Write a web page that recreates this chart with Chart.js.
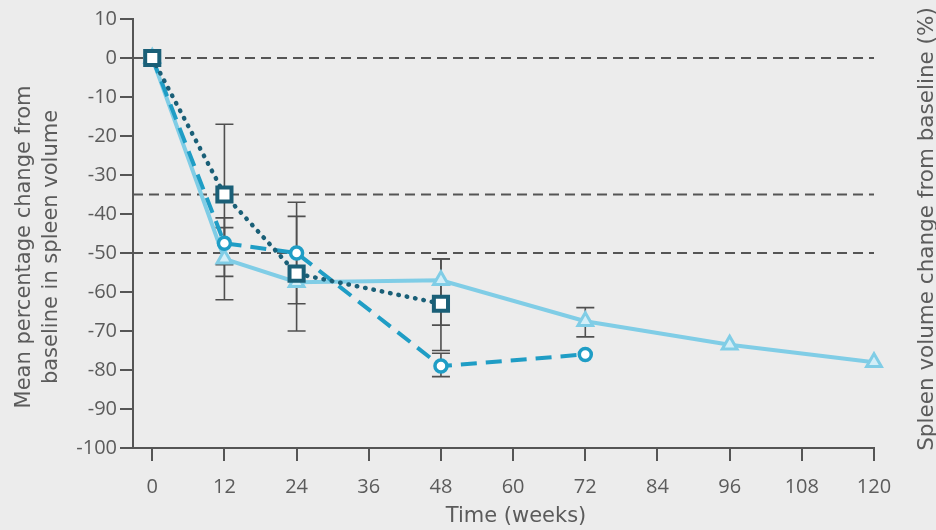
<!DOCTYPE html>
<html>
<head>
<meta charset="utf-8">
<script src="https://cdn.jsdelivr.net/npm/chart.js@4.4.1/dist/chart.umd.min.js"></script>
<style>
  html, body { margin: 0; padding: 0; background: #ececec; }
  #wrap { width: 936px; height: 530px; }
</style>
</head>
<body>
<div id="wrap"><canvas id="chart" width="936" height="530"></canvas></div>
<script>
// x ticks (weeks) and reference levels
const weekTicks = [0, 12, 24, 36, 48, 60, 72, 84, 96, 108, 120];
const refLines = [0, -35, -50];

// light blue, solid, triangles
const triWeeks = [0, 12, 24, 48, 72, 96, 120];
const triValues = [0, -51.5, -57.5, -57, -67.5, -73.5, -78];
const triErrHigh = [null, -41, null, -51.5, -64, null, null];
const triErrLow = [null, -62, null, -68.5, -71.5, null, null];

// mid blue, dashed, circles
const circWeeks = [0, 12, 24, 48, 72];
const circValues = [0, -47.5, -50, -79, -76];
const circErrHigh = [null, -43.5, -37, -75.7, null];
const circErrLow = [null, -56, -63, -81.7, null];

// dark teal, dotted, squares
const sqWeeks = [0, 12, 24, 48];
const sqValues = [0, -35, -55.3, -63];
const sqErrHigh = [null, -17, -40.6, -51.5];
const sqErrLow = [null, -53, -70, -75];

const FONT = "'Open Sans', 'Noto Sans', sans-serif";
const TITLE_FONT = "'DejaVu Sans', 'Open Sans', sans-serif";
const TEXT = '#5b5b5b';
const AXIS = '#555555';

function pts(xs, ys) {
  return xs.map((x, i) => ({ x: x, y: ys[i] }));
}

const errorSets = [
  { xs: triWeeks, hi: triErrHigh, lo: triErrLow },
  { xs: circWeeks, hi: circErrHigh, lo: circErrLow },
  { xs: sqWeeks, hi: sqErrHigh, lo: sqErrLow },
];

const backdrop = {
  id: 'backdrop',
  beforeDraw(chart) {
    const ctx = chart.ctx;
    ctx.save();
    ctx.fillStyle = '#ececec';
    ctx.fillRect(0, 0, chart.width, chart.height);
    ctx.restore();
  }
};

// dashed reference lines and error bars, below the series
const underlay = {
  id: 'underlay',
  beforeDatasetsDraw(chart) {
    const { ctx, chartArea, scales } = chart;
    ctx.save();
    ctx.strokeStyle = AXIS;
    ctx.lineWidth = 1.8;
    ctx.setLineDash([10, 6]);
    refLines.forEach(v => {
      const y = scales.y.getPixelForValue(v);
      ctx.beginPath();
      ctx.moveTo(chartArea.left, y);
      ctx.lineTo(chartArea.right, y);
      ctx.stroke();
    });
    ctx.setLineDash([]);
    ctx.strokeStyle = '#4f4f4f';
    ctx.lineWidth = 1.6;
    errorSets.forEach(s => {
      s.xs.forEach((w, i) => {
        if (s.hi[i] == null) return;
        const x = scales.x.getPixelForValue(w);
        const y1 = scales.y.getPixelForValue(s.hi[i]);
        const y2 = scales.y.getPixelForValue(s.lo[i]);
        ctx.beginPath();
        ctx.moveTo(x, y1); ctx.lineTo(x, y2);
        ctx.moveTo(x - 9, y1); ctx.lineTo(x + 9, y1);
        ctx.moveTo(x - 9, y2); ctx.lineTo(x + 9, y2);
        ctx.stroke();
      });
    });
    ctx.restore();
  }
};

// axis titles
const titles = {
  id: 'titles',
  afterDraw(chart) {
    const ctx = chart.ctx;
    ctx.save();
    ctx.fillStyle = TEXT;
    ctx.textAlign = 'center';
    ctx.textBaseline = 'middle';
    ctx.font = '21px ' + TITLE_FONT;
    ctx.fillText('Time (weeks)', 516, 517);

    ctx.translate(25, 247);
    ctx.rotate(-Math.PI / 2);
    ctx.fillText('Mean percentage change from', 0, 0);
    ctx.fillText('baseline in spleen volume', 0, 27);
    ctx.restore();

    // right-hand title, partly cut off by the edge as in the source
    ctx.save();
    ctx.fillStyle = TEXT;
    ctx.textAlign = 'center';
    ctx.textBaseline = 'alphabetic';
    ctx.font = '21.5px ' + TITLE_FONT;
    ctx.translate(933, 229);
    ctx.rotate(-Math.PI / 2);
    ctx.fillText('Spleen volume change from baseline (%)', 0, 0);
    ctx.restore();
  }
};

new Chart(document.getElementById('chart'), {
  type: 'line',
  data: {
    datasets: [
      {
        label: 'squares',
        data: pts(sqWeeks, sqValues),
        borderColor: '#1a5f77',
        borderWidth: 4.5,
        borderDash: [0.5, 8],
        borderCapStyle: 'round',
        pointStyle: 'rect',
        pointRadius: 10,
        pointBorderWidth: 4,
        pointBackgroundColor: '#ffffff',
        pointBorderColor: '#1a5f77',
        tension: 0,
        clip: false,
      },
      {
        label: 'circles',
        data: pts(circWeeks, circValues),
        borderColor: '#1f9dc5',
        borderWidth: 4,
        borderDash: [16, 9],
        pointStyle: 'circle',
        pointRadius: 6,
        pointBorderWidth: 3.5,
        pointBackgroundColor: '#ffffff',
        pointBorderColor: '#1f9dc5',
        tension: 0,
        clip: false,
      },
      {
        label: 'triangles',
        data: pts(triWeeks, triValues),
        borderColor: '#80cde6',
        borderWidth: 4,
        pointStyle: 'triangle',
        pointRadius: 8.5,
        pointBorderWidth: 3,
        pointBackgroundColor: '#d3eef7',
        pointBorderColor: '#80cde6',
        tension: 0,
        clip: false,
      },
    ]
  },
  options: {
    responsive: false,
    animation: false,
    layout: { padding: { top: 19, right: 62, left: 0, bottom: 0 } },
    plugins: { legend: { display: false }, tooltip: { enabled: false } },
    scales: {
      x: {
        type: 'linear',
        min: -3.2,
        max: 120,
        afterBuildTicks: axis => { axis.ticks = weekTicks.map(v => ({ value: v })); },
        afterFit: axis => { axis.height = 82; },
        border: { display: true, color: AXIS, width: 2 },
        grid: { display: true, drawOnChartArea: false, drawTicks: true, tickLength: 13, color: AXIS, lineWidth: 2 },
        ticks: { color: TEXT, font: { family: FONT, size: 20 }, padding: 14, maxRotation: 0 },
      },
      y: {
        min: -100,
        max: 10,
        afterFit: axis => { axis.width = 133; },
        border: { display: true, color: AXIS, width: 2 },
        grid: { display: true, drawOnChartArea: false, drawTicks: true, tickLength: 13, color: AXIS, lineWidth: 2 },
        ticks: { stepSize: 10, color: TEXT, font: { family: FONT, size: 20 }, padding: 3 },
      }
    }
  },
  plugins: [backdrop, underlay, titles]
});
</script>
</body>
</html>
